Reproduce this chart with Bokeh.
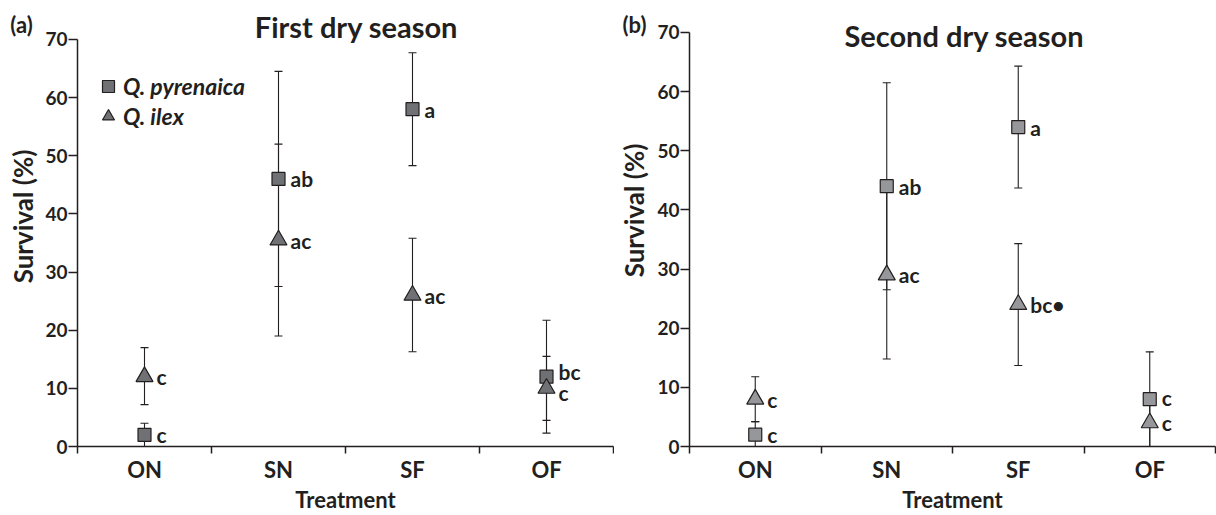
import math
from bokeh.plotting import figure
from bokeh.layouts import row
from bokeh.models import (ColumnDataSource, Whisker, TeeHead, FixedTicker, Range1d,
                          Legend, LegendItem)
from bokeh.core.properties import value
from bokeh.embed import file_html
from bokeh.resources import INLINE

treatments = ["ON", "SN", "SF", "OF"]
xpos = [0.5, 1.5, 2.5, 3.5]

# First dry season
a_pyr = [2, 46, 58, 12]
a_pyr_lo = [0, 27.5, 48.3, 2.3]
a_pyr_hi = [4, 64.5, 67.7, 21.7]
a_pyr_lab = ["c", "ab", "a", "bc"]
a_ilex = [12, 35.5, 26, 10]
a_ilex_lo = [7.2, 19, 16.3, 4.5]
a_ilex_hi = [17, 52, 35.8, 15.5]
a_ilex_lab = ["c", "ac", "ac", "c"]

# Second dry season
b_pyr = [2, 44, 54, 8]
b_pyr_lo = [0, 26.5, 43.7, 0]
b_pyr_hi = [4.2, 61.5, 64.3, 16]
b_pyr_lab = ["c", "ab", "a", "c"]
b_ilex = [8, 29, 24, 4]
b_ilex_lo = [4.2, 14.8, 13.7, 0]
b_ilex_hi = [11.8, 43.2, 34.3, 8]
b_ilex_lab = ["c", "ac", "bc\u2022", "c"]

FONT = "Lato"
INK = "#231f20"
H = 515


def side_strip(width, tag, tag_x, tag_y, ylab_x, ylab_y):
    s = figure(width=width, height=H, output_backend="svg", toolbar_location=None,
               x_range=Range1d(0, width), y_range=Range1d(0, H),
               x_axis_type=None, y_axis_type=None,
               min_border_left=0, min_border_right=0, min_border_top=0,
               min_border_bottom=0, outline_line_color=None)
    s.grid.visible = False
    s.text(x=[tag_x], y=[H - tag_y], text=[tag], text_align="center",
           text_baseline="middle", text_font=value(FONT), text_font_style="bold",
           text_font_size="22px", text_color=INK)
    s.text(x=[ylab_x], y=[H - ylab_y], text=["Survival (%)"], angle=math.pi / 2,
           text_align="center", text_baseline="middle", text_font=value(FONT),
           text_font_style="bold", text_font_size="26px", text_color=INK)
    return s


def make_panel(width, bl, bt, ytop, pyr, plo, phi, plab, ilex, ilo, ihi, ilab,
               fill, title, tx, ty, pyr_dy, ilex_dy, legend=False):
    p = figure(width=width, height=H, output_backend="svg", toolbar_location=None,
               x_range=Range1d(0, 4), y_range=Range1d(0, ytop),
               min_border_left=bl, min_border_right=1, min_border_top=bt,
               min_border_bottom=68, outline_line_color=None)
    p.grid.visible = False

    xa = p.xaxis[0]
    xa.ticker = FixedTicker(ticks=xpos, minor_ticks=[0, 1, 2, 3, 4])
    xa.major_label_overrides = {x: t for x, t in zip(xpos, treatments)}
    xa.major_tick_out = 0
    xa.major_tick_in = 0
    xa.minor_tick_out = 7
    xa.minor_tick_in = 0
    xa.minor_tick_line_color = INK
    xa.minor_tick_line_width = 1.5
    xa.axis_line_color = INK
    xa.axis_line_width = 1.5
    xa.major_label_text_font = FONT
    xa.major_label_text_font_style = "bold"
    xa.major_label_text_font_size = "22px"
    xa.major_label_text_color = INK
    xa.major_label_standoff = 2
    xa.axis_label = "Treatment"
    xa.axis_label_text_font = FONT
    xa.axis_label_text_font_style = "bold"
    xa.axis_label_text_font_size = "22px"
    xa.axis_label_text_color = INK
    xa.axis_label_standoff = 0

    ya = p.yaxis[0]
    ya.ticker = FixedTicker(ticks=[0, 10, 20, 30, 40, 50, 60, 70], minor_ticks=[])
    ya.bounds = (0, 70)
    ya.major_tick_out = 9
    ya.major_tick_in = 0
    ya.major_tick_line_color = INK
    ya.major_tick_line_width = 1.5
    ya.axis_line_color = INK
    ya.axis_line_width = 1.5
    ya.major_label_text_font = FONT
    ya.major_label_text_font_style = "bold"
    ya.major_label_text_font_size = "19px"
    ya.major_label_text_color = INK
    ya.major_label_standoff = 1

    src_p = ColumnDataSource(dict(x=xpos, y=pyr, lo=plo, hi=phi, lab=plab, dy=pyr_dy))
    src_i = ColumnDataSource(dict(x=xpos, y=ilex, lo=ilo, hi=ihi, lab=ilab, dy=ilex_dy))

    for src in (src_p, src_i):
        w = Whisker(base="x", upper="hi", lower="lo", source=src,
                    line_color=INK, line_width=1.1,
                    upper_head=TeeHead(size=8, line_color=INK, line_width=1.1),
                    lower_head=TeeHead(size=8, line_color=INK, line_width=1.1))
        p.add_layout(w)

    rp = p.scatter("x", "y", source=src_p, marker="square", size=13,
                   fill_color=fill, line_color=INK, line_width=1.2)
    ri = p.scatter("x", "y", source=src_i, marker="triangle", size=17,
                   fill_color=fill, line_color=INK, line_width=1.2)

    for src in (src_p, src_i):
        p.text("x", "y", text="lab", source=src, x_offset=12, y_offset="dy",
               text_align="left", text_baseline="middle",
               text_font=value(FONT), text_font_style="bold",
               text_font_size="21px", text_color=INK)

    p.text(x=[tx], y=[ty], text=[title], text_align="center",
           text_baseline="alphabetic", text_font=value(FONT),
           text_font_style="bold", text_font_size="29px", text_color=INK)

    if legend:
        lg = Legend(items=[LegendItem(label="Q. pyrenaica", renderers=[rp]),
                           LegendItem(label="Q. ilex", renderers=[ri])],
                    location=(16, 315), padding=0, spacing=0, margin=0,
                    glyph_width=30, glyph_height=30, label_height=30,
                    label_standoff=0, border_line_color=None,
                    background_fill_alpha=0,
                    label_text_font=FONT, label_text_font_style="bold italic",
                    label_text_font_size="23px", label_text_color=INK)
        p.add_layout(lg)
    return p


sa = side_strip(38, "(a)", 21, 23, 22, 247)
pa = make_panel(576, 39, 4, 76, a_pyr, a_pyr_lo, a_pyr_hi, a_pyr_lab,
                a_ilex, a_ilex_lo, a_ilex_hi, a_ilex_lab,
                "#707174", "First dry season", 2.082, 72.3,
                [0, 0, 0, -5], [0, 0, 0, 4], legend=True)
sb = side_strip(37, "(b)", 20, 23, 19, 240)
pb = make_panel(565, 38, 4, 74.72, b_pyr, b_pyr_lo, b_pyr_hi, b_pyr_lab,
                b_ilex, b_ilex_lo, b_ilex_hi, b_ilex_lab,
                "#96979a", "Second dry season", 2.09, 69.5,
                [0, 0, 0, -2], [0, 0, 0, 0])

layout = row(sa, pa, sb, pb, spacing=0)
open("out.html", "w").write(file_html(layout, INLINE))
